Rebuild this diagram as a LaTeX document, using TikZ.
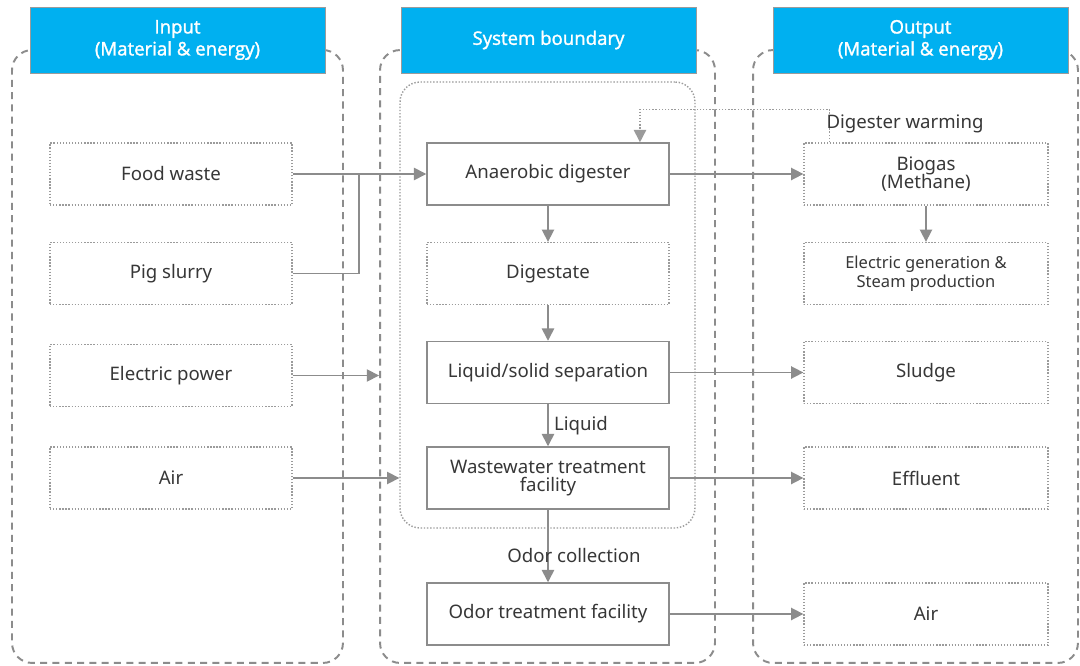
\documentclass[tikz,border=0pt]{standalone}
\usepackage{fontspec}
\setmainfont{Noto Sans}
\newfontfamily\hdrfont{Open Sans}[FakeBold=1.5]
\usetikzlibrary{arrows.meta}
\definecolor{hdrblue}{RGB}{0,176,240}
\definecolor{linegray}{RGB}{140,140,140}
\definecolor{dotgray}{RGB}{155,155,155}
\definecolor{txtgray}{RGB}{55,55,55}

\begin{document}
\begin{tikzpicture}[x=0.02cm, y=-0.02cm,
    every node/.style={text=txtgray, font=\fontsize{10.6}{13}\selectfont},
    column/.style={draw=linegray, line width=1.1pt, dash pattern=on 4pt off 3pt,
      rounded corners=0.4cm, minimum height=12.26cm, inner sep=0pt},
    header/.style={fill=hdrblue, draw=dotgray, line width=0.4pt, text=white,
      font=\hdrfont\fontsize{10.6}{12.5}\selectfont, align=center,
      minimum width=5.9cm, minimum height=1.32cm},
    inbox/.style={draw=dotgray, densely dotted, line width=0.75pt, fill=white,
      minimum width=4.84cm, minimum height=1.24cm, align=center},
    procbox/.style={draw=linegray, line width=0.85pt, fill=white,
      minimum width=4.84cm, minimum height=1.24cm, align=center},
    flow/.style={draw=linegray, line width=0.9pt, -{Triangle[length=7pt,width=7pt]}},
    link/.style={draw=linegray, line width=0.9pt},
    warm/.style={draw=dotgray, densely dotted, line width=0.8pt,
      -{Triangle[length=7pt,width=7pt]}}]

  \path[use as bounding box, fill=white] (0,0) rectangle (1080,666);

  % columns
  \node[column, minimum width=6.62cm] (incol) at (177.5,356.5) {};
  \node[column, minimum width=6.7cm] (syscol) at (547.5,356.5) {};
  \node[column, minimum width=6.5cm] (outcol) at (915.5,356.5) {};
  \node[draw=dotgray, densely dotted, line width=0.8pt, rounded corners=0.4cm,
        minimum width=5.9cm, minimum height=8.92cm, inner sep=0pt] (core) at (547.5,305) {};

  % headers
  \node[header] (inhdr) at (177.5,40) {Input\\(Material \& energy)};
  \node[header] (syshdr) at (548.5,40) {System boundary};
  \node[header] (outhdr) at (920.5,40) {Output\\(Material \& energy)};

  % input side
  \foreach \name/\txt/\y in {food/Food waste/174, pig/Pig slurry/273.5,
      elec/Electric power/375.5, airin/Air/478} {
    \node[inbox] (\name) at (171,\y) {\txt};
  }

  % process chain
  \node[procbox] (digester) at (548,174) {Anaerobic digester};
  \node[inbox] (digestate) at (548,273.5) {Digestate};
  \node[procbox] (separation) at (548,372.5) {Liquid/solid separation};
  \node[procbox] (wwt) at (548,478) {Wastewater treatment\\[-3pt]facility};
  \node[procbox] (odor) at (548,614) {Odor treatment facility};

  % output side
  \node[inbox, minimum width=4.88cm] (biogas) at (926,174) {Biogas\\[-3pt](Methane)};
  \node[inbox, minimum width=4.88cm, font=\fontsize{9.4}{11}\selectfont] (chp) at (926,273.5)
    {Electric generation \&\\Steam production};
  \node[inbox, minimum width=4.88cm] (sludge) at (926,372.5) {Sludge};
  \node[inbox, minimum width=4.88cm] (effluent) at (926,478) {Effluent};
  \node[inbox, minimum width=4.88cm] (airout) at (926,614) {Air};

  % inputs
  \coordinate (joint) at (359,174);
  \draw[flow] (food) -- (digester);
  \draw[link] (pig.east) -| (joint);
  \draw[flow] (elec.east) -- (elec.east -| syscol.west);
  \draw[flow] (airin.east) -- (airin.east -| core.west);

  % chain
  \draw[flow] (digester) -- (digestate);
  \draw[flow] (digestate) -- (separation);
  \draw[flow] (separation) -- node[right, inner sep=3pt] {Liquid} (wwt);
  \draw[flow] (wwt) -- (odor);
  \node (odorlbl) at (574,556) {Odor collection};

  % outputs
  \draw[flow] (digester) -- (biogas);
  \draw[flow] (biogas) -- (chp);
  \draw[flow] (separation) -- (sludge);
  \draw[flow] (wwt) -- (effluent);
  \draw[flow] (odor) -- (airout);

  % heat back to digester
  \draw[warm] ([xshift=0.52cm]biogas.north west) -- ++(0,-33) -| ([xshift=1.84cm]digester.north);
  \node (warmlbl) at (905,124) {Digester warming};
\end{tikzpicture}
\end{document}
